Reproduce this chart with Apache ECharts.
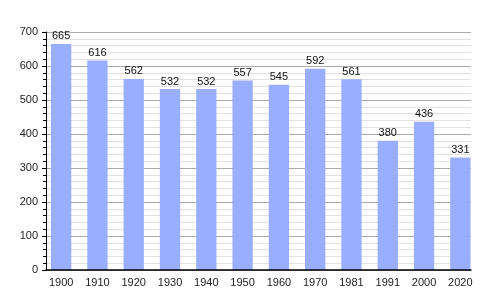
<!DOCTYPE html>
<html><head><meta charset="utf-8">
<script src="https://cdn.jsdelivr.net/npm/echarts@6/dist/echarts.min.js"></script>
<style>html,body{margin:0;padding:0;background:#fff}#c{width:500px;height:300px}</style>
</head><body><div id="c"></div>
<script>
const years = ['1900','1910','1920','1930','1940','1950','1960','1970','1981','1991','2000','2020'];
const population = [665,616,562,532,532,557,545,592,561,380,436,331];
const yTicks = [0,100,200,300,400,500,600,700];

const font = 'Liberation Sans, Arial, sans-serif';
const chart = echarts.init(document.getElementById('c'), null, {renderer:'canvas'});
chart.setOption({
  animation:false,
  backgroundColor:'#fff',
  grid:[
    {left:43,right:21.5,top:32,bottom:30},
    {left:46,right:29,top:32,bottom:30}
  ],
  xAxis:[{
    gridIndex:0, type:'category', data:years,
    axisLine:{show:false}, axisTick:{show:false}, splitLine:{show:false},
    axisLabel:{color:'#222',fontFamily:font,fontSize:11,margin:7}
  },{
    gridIndex:1, type:'value', min:0, max:1, z:10,
    axisLine:{show:true,onZero:false,lineStyle:{color:'#000',width:1.5}},
    axisTick:{show:false}, axisLabel:{show:false}, splitLine:{show:false}
  }],
  yAxis:[{
    gridIndex:0, type:'value', min:yTicks[0], max:yTicks[yTicks.length-1], show:false,
    splitLine:{show:false}
  },{
    gridIndex:1, type:'value', min:yTicks[0], max:yTicks[yTicks.length-1], interval:100,
    axisLine:{show:true,lineStyle:{color:'#000',width:1}},
    axisTick:{show:true,length:4,lineStyle:{color:'#000'}},
    minorTick:{show:true,splitNumber:5,length:3,lineStyle:{color:'#000'}},
    splitLine:{show:true,lineStyle:{color:'#aaa',width:1}},
    minorSplitLine:{show:true,lineStyle:{color:'#e2e2e2',width:1}},
    axisLabel:{color:'#222',fontFamily:font,fontSize:11,margin:8}
  }],
  series:[{
    type:'bar', xAxisIndex:0, yAxisIndex:0, data:population, barWidth:'56%',
    itemStyle:{color:'#9aaeff'}, z:5,
    label:{show:true,position:'top',distance:2,color:'#111',fontFamily:font,fontSize:11}
  }]
});
</script></body></html>
